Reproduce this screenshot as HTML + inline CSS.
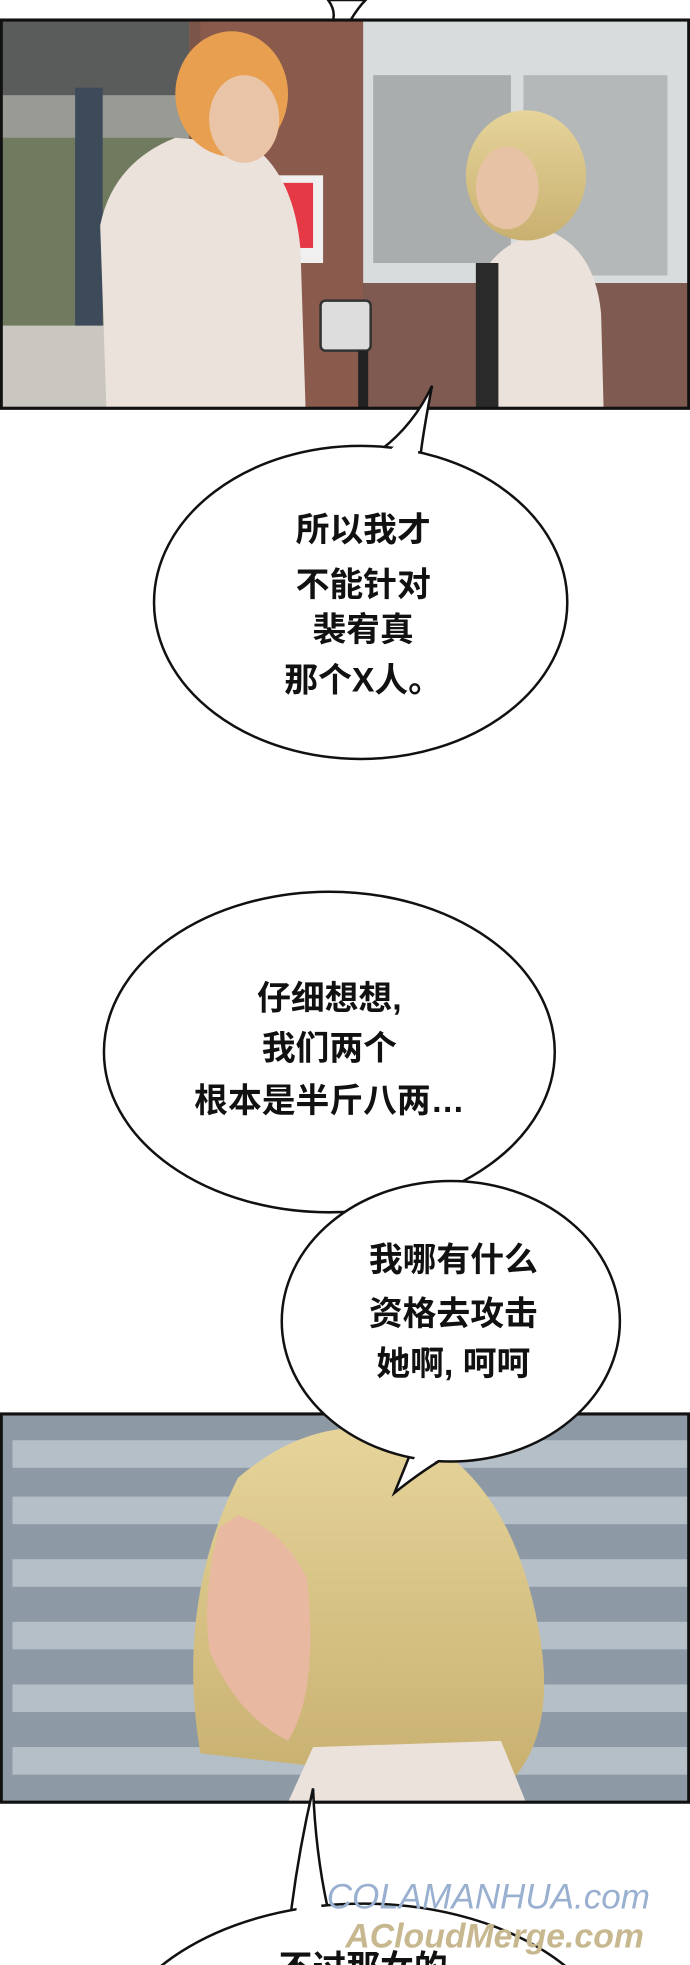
<!DOCTYPE html>
<html><head><meta charset="utf-8"><style>
html,body{margin:0;padding:0;background:#fff;width:690px;height:1965px;overflow:hidden;}
svg{display:block;}
text{font-family:"Liberation Sans","Noto Sans CJK SC",sans-serif;font-weight:bold;font-size:27px;fill:#111;text-anchor:middle;}
</style></head><body>
<svg width="690" height="1965" viewBox="0 0 551 1569" preserveAspectRatio="none">
<defs>
<linearGradient id="hair" x1="0" y1="0" x2="0" y2="1"><stop offset="0" stop-color="#e6d49a"/><stop offset="1" stop-color="#c8b070"/></linearGradient>
<clipPath id="c"><rect x="0" y="0" width="551" height="1569"/></clipPath>
</defs>
<g clip-path="url(#c)">
<path d="M262 0 Q268 8 266 16 L280 16 Q286 6 292 0 Z" fill="#fff" stroke="#111" stroke-width="2"/>
<g>
<rect x="1" y="16" width="549" height="310" fill="#7a5548"/>
<rect x="1" y="16" width="150" height="310" fill="#9a9a94"/>
<rect x="1" y="16" width="150" height="60" fill="#5a5c5c"/>
<rect x="1" y="110" width="140" height="150" fill="#6f7a5e"/>
<rect x="60" y="70" width="22" height="240" fill="#3c4a5a"/>
<rect x="1" y="260" width="150" height="66" fill="#c9c7bf"/>
<rect x="160" y="16" width="130" height="310" fill="#8a5a4c"/>
<rect x="290" y="16" width="260" height="210" fill="#d8dcdc"/>
<rect x="298" y="60" width="110" height="150" fill="#a9adae"/>
<rect x="418" y="60" width="115" height="160" fill="#b4b8b8"/>
<rect x="290" y="226" width="260" height="100" fill="#7e5a50"/>
<rect x="190" y="140" width="68" height="70" fill="#f0f0f0"/>
<rect x="198" y="146" width="52" height="52" fill="#e53a45"/>
<path d="M85 326 L80 180 Q90 130 140 110 L200 115 Q235 140 240 200 L244 326 Z" fill="#ece2dc"/>
<ellipse cx="185" cy="75" rx="45" ry="50" fill="#e8a050"/>
<ellipse cx="195" cy="95" rx="28" ry="35" fill="#e9c4a6"/>
<path d="M380 326 L385 220 Q400 190 440 185 Q475 200 480 250 L482 326 Z" fill="#ece2dc"/>
<rect x="380" y="210" width="18" height="116" fill="#2a2a2a"/>
<ellipse cx="420" cy="140" rx="48" ry="52" fill="url(#hair)"/>
<ellipse cx="405" cy="150" rx="25" ry="33" fill="#e8c2a4"/>
<rect x="256" y="240" width="40" height="40" rx="4" fill="#ddd" stroke="#333" stroke-width="2"/>
<rect x="286" y="280" width="8" height="46" fill="#222"/>
<rect x="1" y="16" width="549" height="310" fill="none" stroke="#111" stroke-width="2.5"/>
</g>
<path d="M303 360 Q330 340 345 308 Q338 345 336 362" fill="#fff" stroke="#111" stroke-width="2"/>
<ellipse cx="288" cy="481" rx="165" ry="125" fill="#fff" stroke="#111" stroke-width="2"/>
<path d="M306 364 Q330 345 342 318 Q336 348 333 366 Z" fill="#fff"/>
<text x="290" y="432">所以我才</text>
<text x="290" y="476">不能针对</text>
<text x="290" y="512">裴宥真</text>
<text x="290" y="552">那个X人。</text>
<g>
<rect x="1" y="1129" width="549" height="310" fill="#8d9aa6"/>
<g fill="#b5bfc8">
<rect x="10" y="1150" width="540" height="22"/><rect x="10" y="1195" width="540" height="22"/>
<rect x="10" y="1245" width="540" height="22"/><rect x="10" y="1295" width="540" height="22"/>
<rect x="10" y="1345" width="540" height="22"/><rect x="10" y="1395" width="540" height="22"/>
</g>
<path d="M160 1400 Q140 1280 190 1180 Q260 1120 340 1150 Q410 1190 430 1300 Q445 1380 410 1420 L330 1425 L250 1410 Z" fill="url(#hair)"/>
<path d="M175 1220 Q160 1280 168 1320 Q190 1370 230 1390 Q255 1350 245 1260 Q225 1220 190 1210 Z" fill="#e8b8a0"/>
<path d="M230 1439 L250 1395 L400 1390 L420 1439 Z" fill="#ece2dc"/>
<rect x="1" y="1129" width="549" height="310" fill="none" stroke="#111" stroke-width="2.5"/>
</g>
<ellipse cx="263" cy="840" rx="180" ry="128" fill="#fff" stroke="#111" stroke-width="2"/>
<text x="263" y="806">仔细想想,</text>
<text x="263" y="846">我们两个</text>
<text x="263" y="888">根本是半斤八两…</text>
<path d="M330 1155 Q322 1175 315 1192 Q340 1172 362 1160" fill="#fff" stroke="#111" stroke-width="2"/>
<ellipse cx="360" cy="1055" rx="135" ry="112" fill="#fff" stroke="#111" stroke-width="2"/>
<path d="M333 1160 Q326 1175 320 1184 Q340 1170 358 1162 Z" fill="#fff"/>
<text x="362" y="1015">我哪有什么</text>
<text x="362" y="1058">资格去攻击</text>
<text x="362" y="1098">她啊, 呵呵</text>
<path d="M232 1530 Q238 1480 250 1428 Q252 1480 262 1525" fill="#fff" stroke="#111" stroke-width="2"/>
<ellipse cx="290" cy="1650" rx="205" ry="130" fill="#fff" stroke="#111" stroke-width="2"/>
<path d="M236 1535 Q240 1480 249 1440 Q252 1480 258 1535 Z" fill="#fff"/>
<text x="290" y="1580">不过那女的</text>
<text x="390" y="1524" style="font-size:28px;font-weight:normal;fill:#9ab0d0;font-style:italic">COLAMANHUA.com</text>
<text x="395" y="1555" style="font-size:27px;fill:#c8b890;font-style:italic">ACloudMerge.com</text>
</g>
</svg>
</body></html>
